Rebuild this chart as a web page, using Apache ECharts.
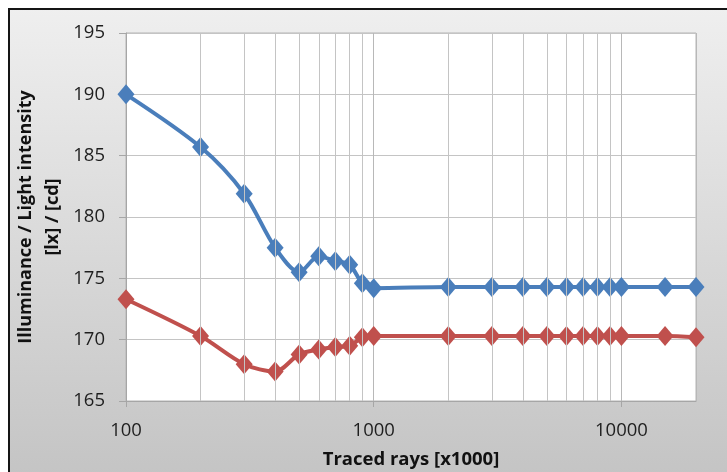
<!DOCTYPE html>
<html>
<head>
<meta charset="utf-8">
<script src="https://cdn.jsdelivr.net/npm/echarts@6/dist/echarts.min.js"></script>
<style>
html,body{margin:0;padding:0;background:#fff;}
#c{width:727px;height:472px;}
</style>
</head>
<body>
<div id="c"></div>
<script>
const raysX = [100, 200, 300, 400, 500, 600, 700, 800, 900, 1000, 2000, 3000, 4000, 5000, 6000, 7000, 8000, 9000, 10000, 15000, 20000];
const illuminance = [190.0, 185.7, 181.9, 177.5, 175.5, 176.8, 176.4, 176.1, 174.6, 174.2, 174.3, 174.3, 174.3, 174.3, 174.3, 174.3, 174.3, 174.3, 174.3, 174.3, 174.3];
const intensity = [173.3, 170.3, 168.0, 167.4, 168.8, 169.2, 169.4, 169.5, 170.2, 170.3, 170.3, 170.3, 170.3, 170.3, 170.3, 170.3, 170.3, 170.3, 170.3, 170.3, 170.2];
const minorGridX = [200, 300, 400, 500, 600, 700, 800, 900, 2000, 3000, 4000, 5000, 6000, 7000, 8000, 9000];
const yTicks = {min: 165, max: 195, interval: 5};

const FONT = "'Open Sans', 'Liberation Sans', sans-serif";
const gridColor = '#c4c4c4';

const chart = echarts.init(document.getElementById('c'), null, {renderer: 'canvas'});
chart.setOption({
  animation: false,
  backgroundColor: '#ffffff',
  graphic: [{
    type: 'rect', z: -100, zlevel: 0, silent: true,
    shape: {x: 9, y: 9, width: 760, height: 500},
    style: {
      fill: new echarts.graphic.LinearGradient(0, 0, 0, 1, [
        {offset: 0, color: '#efefef'}, {offset: 1, color: '#c1c1c1'}
      ]),
      stroke: '#151515', lineWidth: 2
    }
  }],
  grid: {left: 126, right: 31, top: 33, bottom: 71, show: true, backgroundColor: '#ffffff', borderColor: '#b4b4b4', borderWidth: 1,
    outerBoundsMode: 'none', containLabel: false},
  xAxis: {
    type: 'log', logBase: 10, min: 100, max: 20000,
    axisLine: {lineStyle: {color: '#a6a6a6', width: 1}},
    axisTick: {show: true, length: 6, lineStyle: {color: '#a6a6a6'}},
    axisLabel: {color: '#1e1e1e', fontFamily: FONT, fontSize: 18.5, margin: 20, showMaxLabel: false,
      formatter: v => String(Math.round(v))},
    splitLine: {show: true, lineStyle: {color: '#b8b8b8', width: 1}},
    name: 'Traced rays [x1000]', nameLocation: 'middle', nameGap: 49, nameMoveOverlap: false,
    nameTextStyle: {color: '#111', fontFamily: FONT, fontSize: 18.5, fontWeight: 'bold'}
  },
  yAxis: {
    type: 'value', min: yTicks.min, max: yTicks.max, interval: yTicks.interval,
    axisLine: {show: true, lineStyle: {color: '#a6a6a6', width: 1}},
    axisTick: {show: true, length: 7, lineStyle: {color: '#a6a6a6'}},
    axisLabel: {color: '#1e1e1e', fontFamily: FONT, fontSize: 18.5, margin: 21},
    splitLine: {show: true, lineStyle: {color: gridColor, width: 1}},
    name: 'Illuminance / Light intensity\n[lx] / [cd]', nameLocation: 'middle', nameGap: 60, nameRotate: 90, nameMoveOverlap: false,
    nameTextStyle: {color: '#111', fontFamily: FONT, fontSize: 18, fontWeight: 'bold', lineHeight: 27, align: 'center'}
  },
  series: [
    {
      type: 'line', data: [], z: 1, silent: true,
      markLine: {
        silent: true, symbol: 'none', animation: false,
        label: {show: false},
        lineStyle: {color: gridColor, width: 1, type: 'solid'},
        data: minorGridX.map(v => ({xAxis: v}))
      }
    },
    {
      name: 'Illuminance', type: 'line', z: 3,
      data: raysX.map((x, i) => [x, illuminance[i]]),
      smooth: 0.3,
      symbol: 'diamond', symbolSize: [17, 20],
      lineStyle: {color: '#4a7ebb', width: 4},
      itemStyle: {color: '#4a7ebb'}
    },
    {
      name: 'Light intensity', type: 'line', z: 3,
      data: raysX.map((x, i) => [x, intensity[i]]),
      smooth: 0.3,
      symbol: 'diamond', symbolSize: [17, 20],
      lineStyle: {color: '#c0504d', width: 4},
      itemStyle: {color: '#c0504d'}
    }
  ]
});
</script>
</body>
</html>
